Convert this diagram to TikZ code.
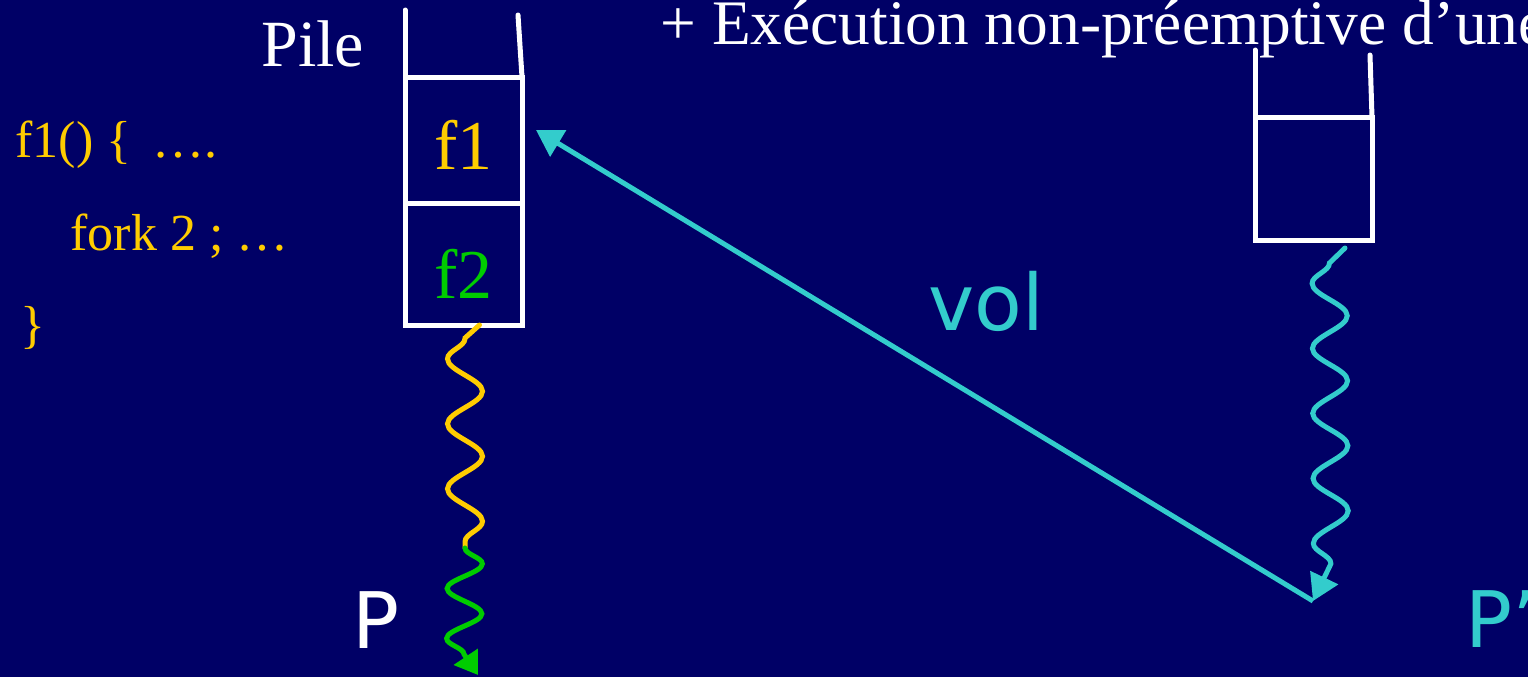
\documentclass[tikz,border=0pt]{standalone}
\usepackage{fontspec}
\setmainfont{Liberation Serif}
\newfontfamily\sansf{DejaVu Sans}
\usetikzlibrary{arrows.meta,positioning,decorations.pathmorphing}
\definecolor{navy}{RGB}{0,0,102}
\definecolor{gold}{RGB}{255,204,0}
\definecolor{leaf}{RGB}{0,204,0}
\definecolor{turq}{RGB}{51,204,204}

\begin{document}
\begin{tikzpicture}[x=0.5pt, y=-0.5pt,
  cell/.style={draw=white, line width=2.5pt, minimum width=58.5pt, minimum height=63pt, inner sep=0pt, outer sep=0pt, text height=29pt, text depth=0pt, font=\fontsize{35}{35}\selectfont},
  wall/.style={white, line width=2.5pt, line cap=round},
  lbl/.style={anchor=base west, inner sep=0pt},
  code/.style={lbl, text=gold, font=\fontsize{26}{26}\selectfont},
  sans/.style={lbl, font=\sansf\fontsize{39}{39}\selectfont},
  wave/.style={line width=2.5pt, line cap=round, decorate, decoration={snake, segment length=32.5pt, amplitude=8.75pt}},
  tip/.style={-{Triangle[length=13pt, width=15pt]}},
]
\useasboundingbox (0,0) rectangle (1528,677);
\fill[navy] (0,0) rectangle (1528,677);

% titre et code
\node[lbl, text=white, font=\fontsize{31.7}{31.7}\selectfont] (title) at (660,44) {+ Exécution non-préemptive d’une};
\node[lbl, text=white, font=\fontsize{33}{33}\selectfont] (pile) at (261,66) {Pile};
\node[code] (l1) at (15,157) {f1() \{ \,….};
\node[code] (l2) at (70,250) {fork 2 ; …};
\node[code] (l3) at (20,342) {\}};

% pile de P
\node[cell, text=gold] (f1) at (463.5,140) {f1};
\node[cell, text=leaf, text height=34pt, minimum height=61pt, below=0pt of f1] (f2) {f2};
\draw[wall] (f1.north west) -- (405,10);
\draw[wall] (f1.north east) -- (518,15);

% pile de P'
\node[cell, minimum height=61.5pt] (rc) at (1313.5,178.5) {};
\draw[wall] (rc.north west) -- (1255,50);
\draw[wall] (rc.north east) -- (1370,55);

% processus
\coordinate (mid) at (465,548);
\coordinate (endp) at (478,675);
\coordinate (land) at (1313,601);
\draw[wave, gold, decoration={mirror, pre length=10pt}] ([xshift=8pt]f2.south) -- (465,338) -- (mid);
\draw[wave, leaf, -{Triangle[length=11pt, width=14pt]}, decoration={segment length=25pt, post length=12pt}] (mid) -- (464,655) -- (endp);
\draw[wave, turq, tip, decoration={mirror, pre length=10.8pt, post length=17pt}] (1345,248) -- (1329.5,263) -- (1331,573) -- (land);
\draw[turq, line width=2.5pt, tip] (land) -- ([xshift=7pt,yshift=5pt]f1.east);

\node[sans, text=turq] (vol) at (928,330) {vol};
\node[sans, text=white] (p) at (352,648) {P};
\node[sans, text=turq] (pp) at (1465,647) {P’};
\end{tikzpicture}
\end{document}
